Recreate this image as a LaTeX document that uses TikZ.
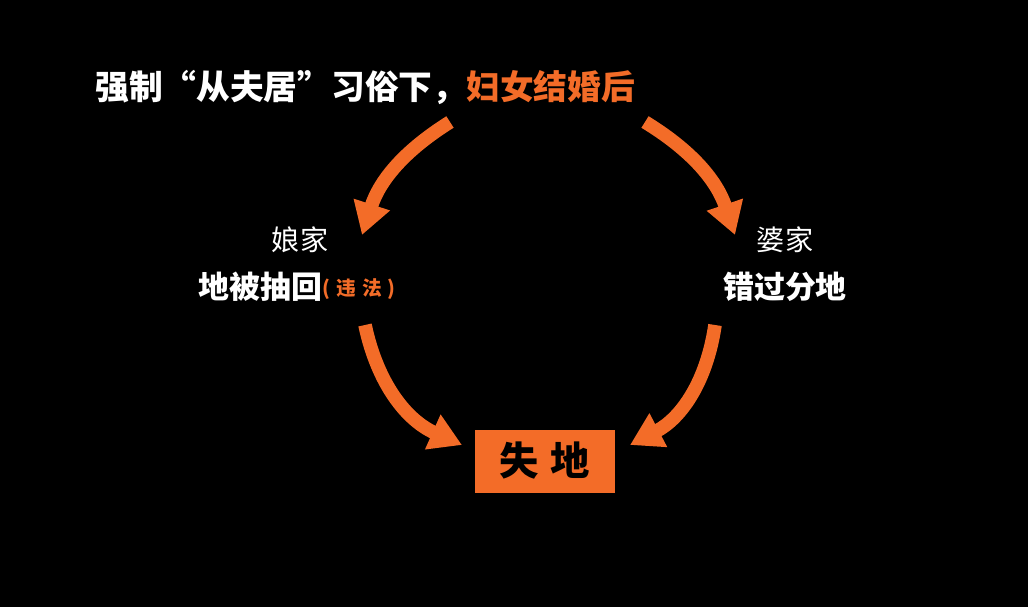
\documentclass[tikz,border=0pt]{standalone}
\usepackage{fontspec}
\setmainfont{Noto Sans CJK SC}
\usepackage{tikz}
\usetikzlibrary{positioning,arrows.meta,calc}
\definecolor{org}{RGB}{243,108,40}

\begin{document}
\begin{tikzpicture}[
    ttl/.style={font=\fontsize{24}{28}\selectfont\bfseries, text=white, inner sep=0pt},
    side/.style={font=\fontsize{20}{24}\selectfont, text=white, inner sep=0pt},
    res/.style={font=\fontsize{22}{26}\selectfont\bfseries, text=white, inner sep=0pt},
    note/.style={font=\fontsize{14}{16}\selectfont\bfseries, text=org, inner sep=0pt},
    lossbox/.style={fill=org, minimum width=35mm, minimum height=15.75mm, inner sep=0pt,
                    font=\fontsize{28}{32}\selectfont\bfseries, text=black},
    arr/.style={-{Triangle[length=8mm,width=9mm]}, line width=3.4mm, draw=org}
  ]
  \fill[black] (0,0) rectangle (257mm,151.75mm);

  \node[ttl, anchor=west] (title) at (23.75mm,130mm) {强制“从夫居”习俗下，{\color{org}妇女结婚后}};

  \node[side] (natal)     at ( 75mm, 91.75mm) {娘家};
  \node[res, anchor=west] (natalland) at (49.5mm, 80mm) {地被抽回};
  \node[note, anchor=west] (illegal) at ([yshift=-0.6mm]natalland.east) {(\hspace{1.5mm}违\hspace{1.5mm}法\hspace{1.5mm})};
  \node[side] (inlaw)     at (196.25mm, 91.75mm) {婆家};
  \node[res]  (inlawland) at (196.25mm, 80mm) {错过分地};
  \node[lossbox] (loss)   at (136.25mm, 36.5mm) {失\hspace{3mm}地};

  \coordinate (tl) at (112.5mm, 121.25mm);
  \coordinate (tr) at (161.25mm, 121.25mm);
  \coordinate (nl) at ( 90.5mm, 93mm);
  \coordinate (nr) at (183.75mm, 93mm);
  \coordinate (bl) at ( 91.25mm, 70.5mm);
  \coordinate (br) at (178.75mm, 70.5mm);
  \coordinate (ll) at (115.5mm, 40.5mm);
  \coordinate (lr) at (157.5mm, 40.5mm);

  \draw[arr] (tl) to[bend right=20] (nl);
  \draw[arr] (tr) to[bend left=20]  (nr);
  \draw[arr] (bl) to[bend right=27] (ll);
  \draw[arr] (br) to[bend left=27]  (lr);
\end{tikzpicture}
\end{document}
